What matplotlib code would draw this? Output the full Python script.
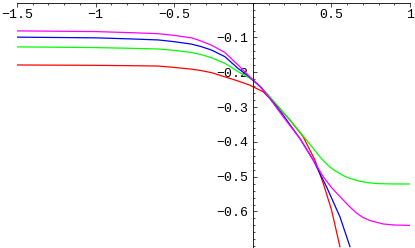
import numpy as np
import matplotlib
matplotlib.use("Agg")
import matplotlib.pyplot as plt
from matplotlib.ticker import FixedLocator, MultipleLocator

# values
magenta_x = [-1.5, -1.0, -0.783, -0.603, -0.5, -0.390, -0.33, -0.263, -0.178, -0.094,
             -0.019, 0.05, 0.108, 0.193, 0.299, 0.384, 0.448, 0.5, 0.554, 0.575,
             0.62, 0.661, 0.7, 0.745, 0.830, 0.904, 1.0]
magenta_y = [-0.081, -0.083, -0.086, -0.089, -0.094, -0.101, -0.110, -0.122, -0.143, -0.179,
             -0.213, -0.242, -0.275, -0.328, -0.390, -0.452, -0.500, -0.531, -0.557, -0.567,
             -0.588, -0.605, -0.617, -0.626, -0.636, -0.639, -0.640]

blue_x = [-1.5, -1.0, -0.783, -0.603, -0.5, -0.390, -0.33, -0.263, -0.178, -0.094,
          -0.019, 0.05, 0.108, 0.193, 0.299, 0.384, 0.469, 0.554, 0.618]
blue_y = [-0.099, -0.101, -0.104, -0.107, -0.112, -0.119, -0.126, -0.136, -0.155, -0.189,
          -0.214, -0.243, -0.275, -0.323, -0.390, -0.452, -0.529, -0.615, -0.701]

green_x = [-1.5, -1.0, -0.783, -0.603, -0.5, -0.390, -0.33, -0.263, -0.178, -0.094,
           -0.019, 0.05, 0.108, 0.236, 0.342, 0.427, 0.46, 0.490, 0.52, 0.554,
           0.58, 0.618, 0.68, 0.745, 0.8, 0.904, 1.0]
green_y = [-0.127, -0.129, -0.131, -0.133, -0.137, -0.143, -0.149, -0.158, -0.174, -0.198,
           -0.217, -0.241, -0.270, -0.337, -0.395, -0.443, -0.459, -0.472, -0.482, -0.491,
           -0.498, -0.505, -0.513, -0.518, -0.520, -0.521, -0.521]

red_x = [-1.5, -1.0, -0.783, -0.603, -0.5, -0.390, -0.33, -0.263, -0.178, -0.094,
         -0.019, 0.066, 0.150, 0.236, 0.320, 0.395, 0.448, 0.501, 0.554]
red_y = [-0.179, -0.180, -0.181, -0.182, -0.186, -0.191, -0.195, -0.201, -0.213, -0.225,
         -0.237, -0.256, -0.294, -0.337, -0.385, -0.452, -0.519, -0.596, -0.701]

x_ticks = [-1.5, -1, -0.5, 0.5, 1]
x_labels = ["−1.5", "−1", "−0.5", "0.5", "1"]
y_ticks = [-0.1, -0.2, -0.3, -0.4, -0.5, -0.6]
y_labels = ["−0.1", "−0.2", "−0.3", "−0.4", "−0.5", "−0.6"]

fig = plt.figure(figsize=(4.15, 2.48), dpi=100)
ax = fig.add_axes([17 / 415, 0, 393 / 415, 1 - 2.7 / 248])

lw = 0.9
ax.plot(red_x, red_y, color="#ff0000", lw=lw)
ax.plot(green_x, green_y, color="#00ff00", lw=lw)
ax.plot(blue_x, blue_y, color="#0000ff", lw=lw)
ax.plot(magenta_x, magenta_y, color="#ff00ff", lw=lw)

ax.set_xlim(-1.5, 1)
ax.set_ylim(-0.705, 0)

# Mathematica style axes crossing at the origin
ax.spines["right"].set_visible(False)
ax.spines["top"].set_visible(False)
ax.spines["left"].set_position(("data", 0))
ax.spines["bottom"].set_position(("data", 0))
for s in ("left", "bottom"):
    ax.spines[s].set_linewidth(0.6)
    ax.spines[s].set_clip_on(False)

ax.xaxis.set_major_locator(FixedLocator(x_ticks))
ax.set_xticklabels(x_labels)
ax.xaxis.set_minor_locator(MultipleLocator(0.1))
ax.yaxis.set_major_locator(FixedLocator(y_ticks))
ax.set_yticklabels(y_labels)
ax.yaxis.set_minor_locator(MultipleLocator(0.02))

font = dict(family="Liberation Mono", size=9.5)
for lab in ax.get_xticklabels() + ax.get_yticklabels():
    lab.set_fontfamily(font["family"])
    lab.set_fontsize(font["size"])

ax.tick_params(axis="x", which="major", direction="out", length=3, width=0.5, pad=1.5)
ax.tick_params(axis="x", which="minor", direction="out", length=1.6, width=0.5)
ax.tick_params(axis="y", which="major", direction="in", length=3, width=0.5, pad=3)
ax.tick_params(axis="y", which="minor", direction="in", length=1.6, width=0.5)
ax.patch.set_visible(False)

fig.savefig("out.png", dpi=100)
